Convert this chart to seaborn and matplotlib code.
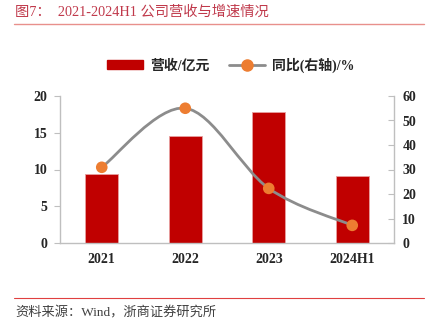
import numpy as np
import pandas as pd
import matplotlib
matplotlib.use("Agg")
import matplotlib.pyplot as plt
from matplotlib.path import Path
from matplotlib.patches import PathPatch, Patch
from matplotlib.lines import Line2D
import seaborn as sns

categories = ["2021", "2022", "2023", "2024H1"]
revenue = [9.4, 14.5, 17.8, 9.1]
growth = [30.9, 55.0, 22.3, 7.2]
left_ticks = [0, 5, 10, 15, 20]
right_ticks = [0, 10, 20, 30, 40, 50, 60]

title = "图7：  2021-2024H1 公司营收与增速情况"
source = "资料来源：Wind，浙商证券研究所"
bar_label = "营收/亿元"
line_label = "同比(右轴)/%"

sns.set_style("white")
plt.rcParams["font.family"] = ["Liberation Serif", "Noto Sans CJK SC", "DejaVu Sans"]

BAR_C = "#c00000"
LINE_C = "#8c8c8c"
MARK_C = "#ed7d31"
AX_C = "#bfbfbf"

fig = plt.figure(figsize=(4.40, 3.26), dpi=100)
ax = fig.add_axes([60/440, 1-243/326, 334/440, 147/326])

df = pd.DataFrame({"cat": categories, "rev": revenue})
sns.barplot(data=df, x="cat", y="rev", color=BAR_C, width=0.4, ax=ax,
            saturation=1, edgecolor="#e8a0a0", linewidth=0.6)
ax.set_xlim(-0.5, 3.5)
ax.set_ylim(0, 20)
ax.set_yticks(left_ticks)
ax.set_xlabel("")
ax.set_ylabel("")
ax.set_xticks([0.5, 1.5, 2.5], minor=False)
ax.set_xticklabels([])
ax.set_xticks(range(4), minor=True)
ax.set_xticklabels(categories, minor=True)
ax.tick_params(axis="x", which="major", length=4, width=0.8, color=AX_C, direction="out")
ax.tick_params(axis="x", which="minor", length=0, pad=7)
ax.tick_params(axis="y", length=4, width=0.8, color=AX_C, direction="out", pad=5)
for lab in ax.get_xticklabels(minor=True) + ax.get_yticklabels():
    lab.set_fontweight("bold")
    lab.set_fontsize(10)
for s in ["top", "right"]:
    ax.spines[s].set_visible(False)
for s in ["left", "bottom"]:
    ax.spines[s].set_color(AX_C)
    ax.spines[s].set_linewidth(1.0)

ax2 = ax.twinx()
ax2.set_ylim(0, 60)
ax2.set_yticks(right_ticks)
ax2.tick_params(axis="y", length=4, width=0.8, color=AX_C, direction="in", pad=6)
for lab in ax2.get_yticklabels():
    lab.set_fontweight("bold")
    lab.set_fontsize(10)
for s in ["top", "left", "bottom"]:
    ax2.spines[s].set_visible(False)
ax2.spines["right"].set_color(AX_C)
ax2.spines["right"].set_linewidth(1.0)

# smooth curve (Catmull-Rom as cubic Bezier) through the growth points
xs = np.arange(len(growth), dtype=float)
ys = np.array(growth, dtype=float)
P = np.column_stack([xs, ys])
Pe = np.vstack([P[0], P, P[-1]])
verts = [tuple(P[0])]
codes = [Path.MOVETO]
for i in range(len(P) - 1):
    p0, p1, p2, p3 = Pe[i], Pe[i+1], Pe[i+2], Pe[i+3]
    c1 = p1 + (p2 - p0) / 6.0
    c2 = p2 - (p3 - p1) / 6.0
    verts += [tuple(c1), tuple(c2), tuple(p2)]
    codes += [Path.CURVE4] * 3
ax2.add_patch(PathPatch(Path(verts, codes), facecolor="none", edgecolor=LINE_C,
                        linewidth=2.0, zorder=3))
sns.scatterplot(x=xs, y=ys, ax=ax2, color=MARK_C, s=70, edgecolor="none", zorder=4)

# legend
handles = [Patch(facecolor=BAR_C, edgecolor=BAR_C),
           Line2D([0], [0], color=LINE_C, lw=2, marker="o", markersize=8,
                  markerfacecolor=MARK_C, markeredgecolor=MARK_C)]
fig.legend(handles, [bar_label, line_label], loc="center", bbox_to_anchor=(0.525, 1-65/326),
           ncol=2, frameon=False, prop={"family": ["Liberation Serif", "Noto Sans CJK SC"],
                                         "weight": "bold", "size": 10},
           handlelength=2.6, handleheight=0.6, columnspacing=1.4, handletextpad=0.5)

# title, rules, source
fig.text(15/440, 1-12/326, title, color="#c0394b", fontsize=10.3, va="center", ha="left",
         family=["Liberation Serif", "Noto Sans CJK SC"])
fig.add_artist(Line2D([14/440, 424/440], [1-24/326, 1-24/326], color="#e8908c", lw=1.0))
fig.add_artist(Line2D([14/440, 424/440], [1-298/326, 1-298/326], color="#e04040", lw=0.8))
fig.text(15/440, 1-313/326, source, color="#404040", fontsize=9.5, va="center", ha="left",
         family=["Liberation Serif", "Noto Sans CJK SC"])

fig.savefig("out.png", dpi=100)
